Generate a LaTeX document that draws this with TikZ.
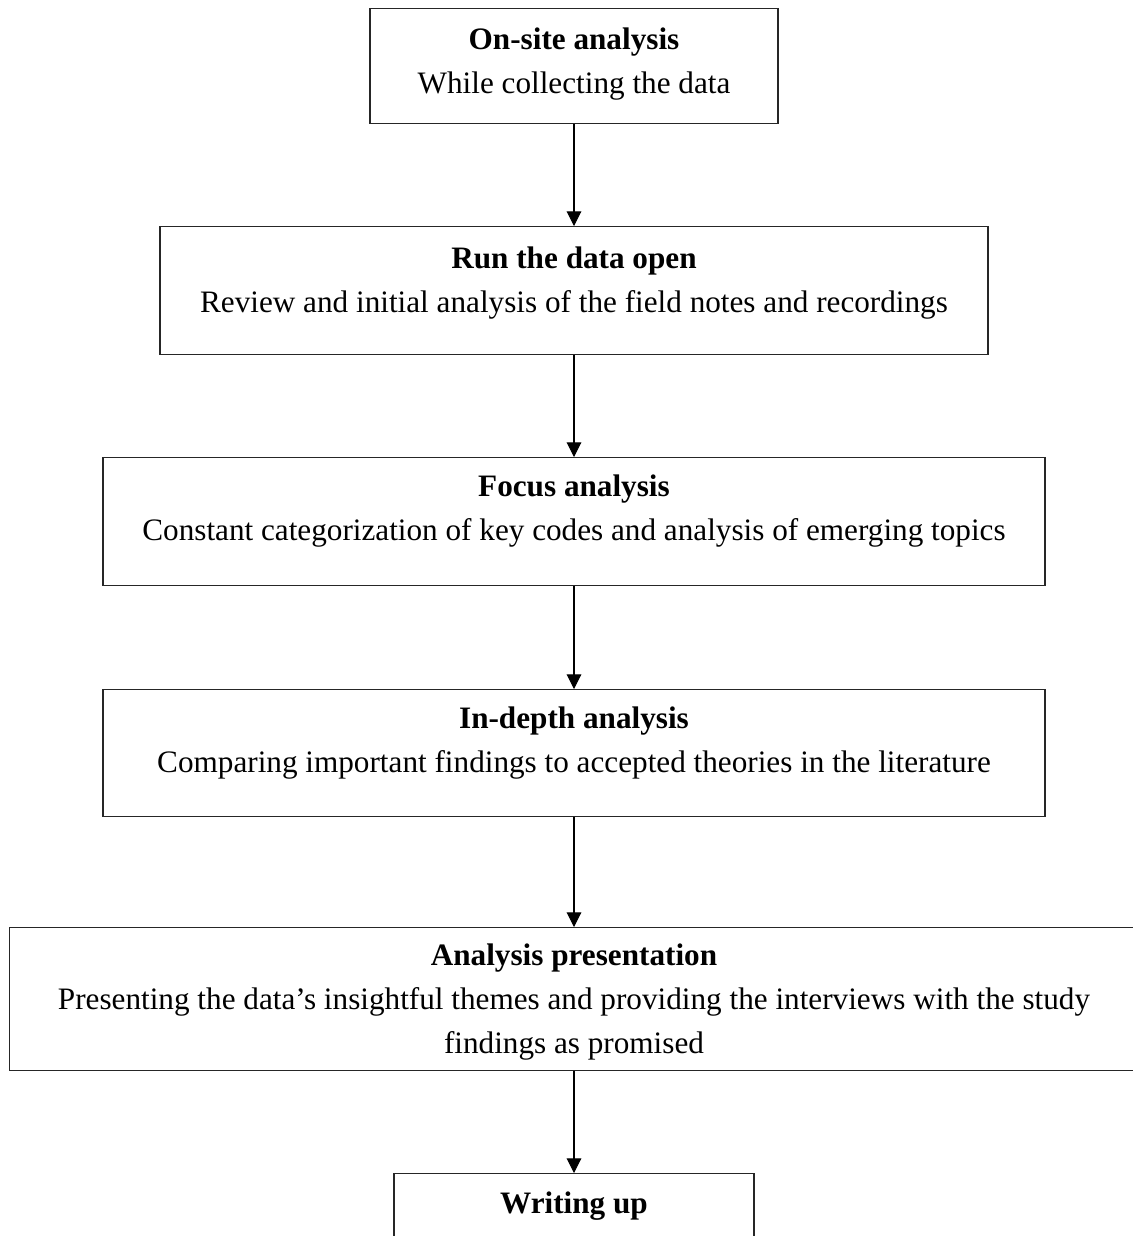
\documentclass[tikz,border=0pt]{standalone}
\usepackage{fontspec}
\setmainfont{Liberation Serif}
\usetikzlibrary{arrows.meta}

\begin{document}
\begin{tikzpicture}[x = 0.3846pt, y = -0.3846pt,
        stage/.style = {draw = black!85, line width = 0.5pt, anchor = north, inner sep = 0pt,
                        align = center, font = \fontsize{12}{16.9}\selectfont},
        flow/.style = {-{Triangle[length = 5.6pt, width = 5.6pt]}, line width = 0.4pt}]
            \useasboundingbox (0, 0) rectangle (1133, 1236);
            \clip (0, 0) rectangle (1133, 1236);
            % the six stages
            \node (onsite) [stage, minimum width = 156.9pt, text height = 32.7pt, text depth = 11.5pt] at (574, 8)
                {\textbf{On-site analysis}\\While collecting the data};
            \node (runopen) [stage, minimum width = 318.5pt, text height = 33.1pt, text depth = 16.2pt] at (574, 226)
                {\textbf{Run the data open}\\Review and initial analysis of the field notes and recordings};
            \node (focus) [stage, minimum width = 362.3pt, text height = 31.9pt, text depth = 17.3pt] at (574, 457)
                {\textbf{Focus analysis}\\Constant categorization of key codes and analysis of emerging topics};
            \node (indepth) [stage, minimum width = 362.3pt, text height = 31.9pt, text depth = 16.9pt] at (574, 689)
                {\textbf{In-depth analysis}\\Comparing important findings to accepted theories in the literature};
            \node (present) [stage, minimum width = 434.2pt, text height = 48.5pt, text depth = 6.5pt] at (574, 927)
                {\textbf{Analysis presentation}\\Presenting the data’s insightful themes and providing the interviews with the study\\findings as promised};
            \node (writeup) [stage, minimum width = 138.5pt, text height = 15.4pt, text depth = 40pt] at (574, 1173)
                {\textbf{Writing up}};
            % arrows between them
            \draw [flow] (onsite.south) -- (runopen.north);
            \draw [flow] (runopen.south) -- (focus.north);
            \draw [flow] (focus.south) -- (indepth.north);
            \draw [flow] (indepth.south) -- (present.north);
            \draw [flow] (present.south) -- (writeup.north);
\end{tikzpicture}
\end{document}
